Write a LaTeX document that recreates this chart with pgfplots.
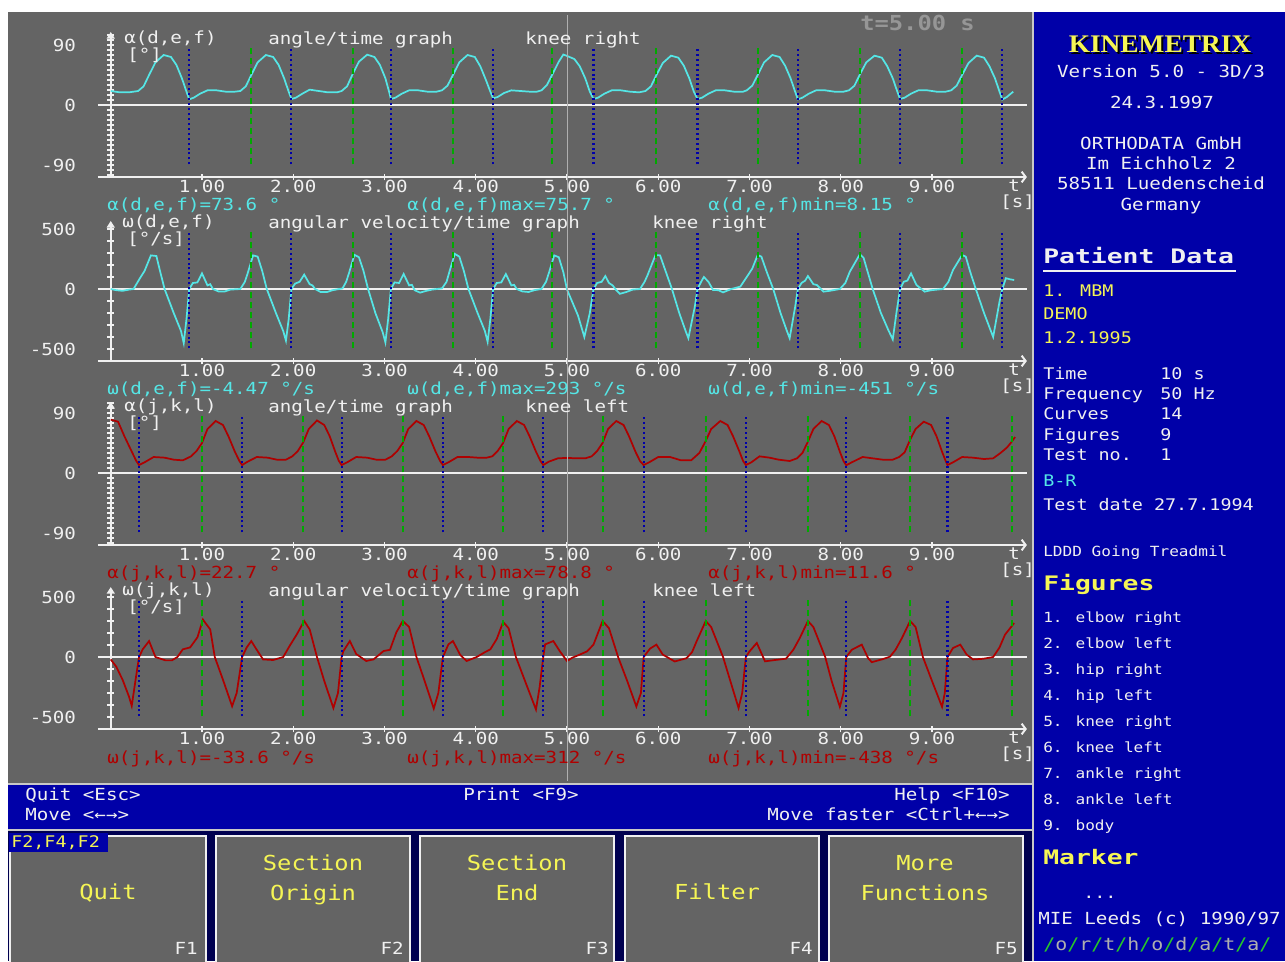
\documentclass[border=0pt]{standalone}
\usepackage{fontspec}
\usepackage{pgfplots}
\usepackage{pgfplotstable}
\pgfplotsset{compat=1.18}
\usetikzlibrary{arrows.meta}
\setmainfont{DejaVu Sans Mono}[FakeStretch=1.15]
\newfontfamily\wide{DejaVu Sans Mono}[FakeStretch=1.32]
\newfontfamily\logo{Liberation Serif}[FakeStretch=1.08]
\newcommand\fs[1]{\fontsize{#1}{#1}\selectfont}

\definecolor{bg}{RGB}{100,100,100}
\definecolor{vga}{RGB}{0,0,168}
\definecolor{navy}{RGB}{0,0,80}
\definecolor{cy}{RGB}{85,230,230}
\definecolor{dred}{RGB}{175,0,0}
\definecolor{mgreen}{RGB}{0,170,0}
\definecolor{mblue}{RGB}{0,0,170}
\definecolor{yel}{RGB}{245,245,85}
\definecolor{txt}{RGB}{240,240,240}
\definecolor{edge}{RGB}{200,200,200}
\definecolor{cursor}{RGB}{175,175,175}
\definecolor{tgray}{RGB}{150,150,150}
\definecolor{sgreen}{RGB}{40,200,40}
\definecolor{lgr}{RGB}{175,175,175}

% right knee angle [deg]
\pgfplotstableread{
t v
0.00 21
0.10 19
0.20 19
0.30 21
0.36 28
0.42 45
0.49 64
0.58 75
0.66 72
0.72 60
0.78 40
0.83 20
0.86 8.5
0.91 11
0.98 17
1.06 22
1.16 22
1.26 20
1.36 20
1.42 21
1.48 28
1.54 45
1.61 64
1.70 75
1.78 72
1.84 60
1.90 40
1.95 20
1.98 9
2.03 11
2.10 17
2.18 23
2.28 21
2.38 19
2.48 19
2.53 21
2.59 28
2.65 46
2.72 65
2.81 75.5
2.89 72
2.95 60
3.01 40
3.05 20
3.07 9
3.12 11
3.19 17
3.27 22
3.37 22
3.47 20
3.57 20
3.63 22
3.69 29
3.75 45
3.82 64
3.91 75
3.99 72
4.05 58
4.11 38
4.16 20
4.19 10
4.24 12
4.31 18
4.39 22
4.49 21
4.59 20
4.67 20
4.72 22
4.78 30
4.84 46
4.91 65
4.96 75.7
5.00 73.6
5.08 69
5.14 58
5.20 40
5.25 20
5.29 9
5.34 11
5.41 17
5.49 22
5.59 22
5.69 20
5.79 19
5.86 21
5.92 28
5.98 45
6.05 63
6.14 74
6.22 71
6.28 59
6.34 40
6.39 20
6.43 9
6.48 11
6.55 17
6.63 22
6.73 22
6.83 20
6.93 20
6.97 22
7.03 29
7.09 45
7.16 64
7.25 75
7.33 72
7.39 59
7.45 40
7.50 20
7.53 8.5
7.58 11
7.65 17
7.73 22
7.83 22
7.93 20
8.03 20
8.09 22
8.15 29
8.21 46
8.28 64
8.37 74
8.45 71
8.51 58
8.57 40
8.62 20
8.65 9
8.70 11
8.77 17
8.85 22
8.95 22
9.05 20
9.15 20
9.21 22
9.27 29
9.33 45
9.40 63
9.49 74
9.57 71
9.63 58
9.69 40
9.74 20
9.77 8.15
9.82 12
9.89 20
}\rka

% right knee angular velocity [deg/s]
\pgfplotstableread{
t v
0.00 0
0.06 -10
0.13 -15
0.20 -5
0.25 0
0.32 90
0.37 150
0.44 280
0.50 275
0.54 150
0.59 0
0.69 -200
0.77 -350
0.80 -451
0.83 -250
0.86 0
0.90 50
0.95 55
1.00 130
1.06 30
1.09 40
1.12 0
1.18 -20
1.25 -20
1.31 -5
1.42 0
1.47 60
1.50 130
1.56 280
1.61 270
1.66 150
1.71 0
1.81 -200
1.89 -350
1.92 -430
1.95 -250
1.98 0
2.02 45
2.07 60
2.12 120
2.18 40
2.21 30
2.24 0
2.30 -25
2.37 -25
2.43 -10
2.54 5
2.58 60
2.61 130
2.67 285
2.72 265
2.77 150
2.82 0
2.90 -200
2.98 -360
3.01 -445
3.04 -250
3.07 0
3.11 55
3.16 50
3.21 125
3.27 30
3.30 35
3.33 -10
3.39 -30
3.46 -15
3.52 -5
3.63 5
3.68 60
3.71 140
3.77 293
3.82 270
3.87 150
3.92 0
4.02 -200
4.10 -350
4.13 -440
4.16 -250
4.19 0
4.23 50
4.28 55
4.33 125
4.39 30
4.42 35
4.45 0
4.51 -20
4.58 -25
4.64 -10
4.72 0
4.77 60
4.80 130
4.86 280
4.91 265
4.96 140
5.00 -4.47
5.12 -220
5.19 -400
5.25 -200
5.29 0
5.33 50
5.38 60
5.42 108
5.46 50
5.50 30
5.54 -10
5.58 -40
5.65 -25
5.72 -5
5.80 0
5.85 60
5.88 110
5.97 283
6.02 280
6.08 150
6.15 0
6.23 -200
6.30 -350
6.33 -410
6.40 -150
6.43 0
6.47 60
6.50 100
6.55 60
6.60 -8
6.66 -10
6.71 -28
6.80 0
6.90 20
6.97 100
7.03 170
7.09 283
7.13 270
7.19 140
7.26 0
7.34 -200
7.41 -350
7.44 -410
7.50 -150
7.53 0
7.57 50
7.61 70
7.64 108
7.70 40
7.74 33
7.81 -22
7.88 -15
7.99 0
8.05 50
8.10 145
8.21 290
8.25 260
8.30 130
8.35 0
8.44 -200
8.52 -340
8.57 -420
8.61 -200
8.65 0
8.69 60
8.73 70
8.77 130
8.83 33
8.92 -22
8.99 -10
9.12 0
9.18 60
9.23 158
9.33 283
9.37 270
9.42 140
9.48 0
9.57 -200
9.64 -340
9.67 -400
9.74 -105
9.77 0
9.81 90
9.86 80
9.90 75
}\rkv

% left knee angle [deg]
\pgfplotstableread{
t v
0.00 80
0.08 77
0.15 55
0.22 35
0.28 18
0.31 12
0.37 16
0.47 24
0.59 23
0.69 20
0.79 19
0.88 25
0.94 33
1.00 45
1.06 66
1.15 78
1.23 72
1.29 55
1.36 32
1.41 18
1.44 12
1.50 17
1.60 24
1.72 23
1.82 20
1.92 20
1.99 25
2.05 33
2.11 46
2.17 66
2.26 78.8
2.34 72
2.40 55
2.46 32
2.50 18
2.53 12
2.59 16
2.69 24
2.81 23
2.91 20
3.01 20
3.08 25
3.14 33
3.20 45
3.26 66
3.35 78
3.43 72
3.49 55
3.56 32
3.61 18
3.64 12
3.70 16
3.80 24
3.92 24
4.02 23
4.12 23
4.18 25
4.24 33
4.30 45
4.36 66
4.45 78
4.53 72
4.59 55
4.66 32
4.71 18
4.74 12
4.80 17
4.90 22
5.00 22.7
5.10 22
5.20 22
5.27 25
5.33 33
5.39 45
5.45 66
5.54 78
5.62 72
5.68 55
5.75 32
5.80 18
5.84 12
5.90 16
6.00 24
6.13 24
6.25 19
6.36 19
6.45 30
6.52 48
6.58 66
6.68 78
6.76 72
6.82 55
6.89 32
6.93 18
6.96 12
7.02 16
7.11 25
7.22 23
7.32 20
7.44 18
7.52 22
7.58 30
7.64 47
7.70 66
7.79 78
7.87 72
7.93 55
7.99 32
8.03 18
8.06 11.6
8.12 16
8.24 24
8.35 22
8.46 20
8.57 20
8.64 24
8.70 31
8.76 50
8.82 66
8.91 77
8.99 72
9.05 55
9.11 32
9.15 18
9.17 12
9.23 16
9.33 24
9.45 23
9.57 21
9.67 22
9.75 30
9.82 38
9.88 48
9.91 54
}\lka

% left knee angular velocity [deg/s]
\pgfplotstableread{
t v
0.00 -20
0.06 -80
0.13 -190
0.20 -330
0.23 -407
0.27 -200
0.31 0
0.35 64
0.42 133
0.49 0
0.60 -28
0.67 -28
0.73 0
0.79 64
0.87 80
0.95 164
1.01 312
1.09 230
1.14 0
1.23 -190
1.33 -410
1.38 -300
1.44 0
1.49 80
1.54 133
1.60 60
1.67 -20
1.78 -25
1.89 0
1.96 92
2.04 190
2.12 300
2.18 230
2.26 0
2.34 -200
2.44 -425
2.49 -300
2.53 0
2.55 50
2.62 133
2.69 25
2.80 -33
2.88 -20
2.99 50
3.06 60
3.13 206
3.20 300
3.27 250
3.35 0
3.44 -200
3.54 -430
3.59 -300
3.64 0
3.70 105
3.75 133
3.83 17
3.90 -33
3.96 -15
4.01 0
4.10 40
4.16 64
4.23 150
4.30 292
4.36 240
4.44 0
4.54 -200
4.66 -438
4.70 -250
4.74 0
4.76 105
4.85 133
4.92 50
5.00 -33.6
5.06 -5
5.14 20
5.22 47
5.29 103
5.39 300
5.46 240
5.56 0
5.66 -200
5.76 -413
5.81 -300
5.84 0
5.91 70
5.98 103
6.05 20
6.18 -37
6.31 -10
6.37 40
6.42 130
6.52 300
6.58 250
6.71 0
6.79 -200
6.88 -425
6.92 -300
6.96 0
7.00 47
7.08 117
7.17 -36
7.28 -25
7.40 -14
7.48 60
7.55 157
7.64 300
7.70 250
7.83 0
7.90 -200
7.99 -415
8.03 -300
8.06 0
8.12 60
8.23 103
8.30 -10
8.34 -43
8.45 -20
8.54 3
8.60 60
8.67 157
8.76 300
8.82 250
8.90 0
9.00 -200
9.11 -415
9.14 -300
9.17 0
9.23 75
9.31 103
9.38 20
9.45 -20
9.56 -15
9.67 0
9.74 80
9.80 186
9.90 283
}\lkv

\pgfplotsset{
  kin/.style={
    anchor=origin, x=68.4375pt, xmin=-0.14, xmax=10.04,
    axis x line=bottom, axis y line=center,
    axis line style={txt, line width=1.5pt},
    x axis line style={-{Straight Barb[length=3pt,width=8pt]}},
    y axis line style={-{Triangle[length=5pt,width=6pt]}},
    xtick={1,...,9},
    xticklabels={1.00,2.00,3.00,4.00,5.00,6.00,7.00,8.00,9.00},
    tick align=center,
    major tick length=5pt, minor tick length=5pt,
    tick style={txt, line width=1pt},
    ticklabel style={font=\fs{12.5}, text=txt},
    xticklabel style={yshift=3.5pt},
    yticklabel style={xshift=-20pt},
    unbounded coords=jump,
  },
  ang/.style={y=0.5pt, ytick={-90,0,90}, yticklabels={-90,0,90},
    minor ytick={-105,-97.5,-82.5,-75,-67.5,-60,-52.5,-45,-37.5,-30,-22.5,-15,-7.5,
                 7.5,15,22.5,30,37.5,45,52.5,60,67.5,75,82.5,97.5,105}},
  vel/.style={y=0.09pt, ytick={-500,0,500}, yticklabels={-500,0,500},
    minor ytick={-400,-300,-200,-100,100,200,300,400}},
}

\tikzset{
  gdash/.style={mgreen, line width=1.5pt, dash pattern=on 4.5pt off 3pt},
  bdot/.style={mblue, line width=1.6pt, dash pattern=on 1.5pt off 2.2pt},
  zline/.style={txt, line width=1.5pt},
  lab/.style={anchor=west, inner sep=0pt, text=txt, font=\fs{12.5},
              text height=0.73em, text depth=0pt},
  rp/.style={anchor=west, inner sep=0pt, text=txt, font=\fs{12},
             text height=0.73em, text depth=0pt},
  rc/.style={inner sep=0pt, text=txt, font=\fs{12.5},
             text height=0.73em, text depth=0pt},
  btn/.style={inner sep=0pt, text=yel, font=\fs{15.5},
              text height=0.73em, text depth=0pt},
  fk/.style={anchor=east, inner sep=0pt, text=txt, font=\fs{12.5},
             text height=0.73em, text depth=0pt},
}

\newcommand\dslash{\textcolor{sgreen}{/}}
\newcommand\dl[1]{\textcolor{lgr}{#1}}

\begin{document}
\begin{tikzpicture}[x=0.75pt, y=-0.75pt]
\useasboundingbox (0,0) rectangle (1285,961);
\fill[white] (0,0) rectangle (1285,961);

% screen areas
\fill[bg] (8,12) rectangle (1032,783);
\fill[vga] (1034,12) rectangle (1285,961);
\draw[edge, line width=1.2pt] (1033,12) -- (1033,961);
\fill[vga] (8,785) rectangle (1032,829);
\draw[edge, line width=1.2pt] (8,784) -- (1032,784);
\draw[edge, line width=1.2pt] (8,830) -- (1032,830);
\fill[navy] (8,831) rectangle (1032,961);

% ---- panel 1: right knee angle (origin at 110.75px, 105px)
\begin{axis}[kin, ang, at={(83.0625pt,-78.75pt)}, ymin=-108, ymax=109.5]
\draw[zline] (axis cs:-0.14,0) -- (axis cs:10.04,0);
\addplot[cy, line width=1.3pt] table {\rka};
\addplot[gdash] coordinates {(1.54,-89)(1.54,86)(1.54,nan)(2.65,-89)(2.65,86)(2.65,nan)(3.75,-89)(3.75,86)(3.75,nan)(4.84,-89)(4.84,86)(4.84,nan)(5.98,-89)(5.98,86)(5.98,nan)(7.09,-89)(7.09,86)(7.09,nan)(8.21,-89)(8.21,86)(8.21,nan)(9.33,-89)(9.33,86)};
\addplot[bdot] coordinates {(0.86,-89)(0.86,86)(0.86,nan)(1.98,-89)(1.98,86)(1.98,nan)(3.07,-89)(3.07,86)(3.07,nan)(4.19,-89)(4.19,86)(4.19,nan)(5.29,-89)(5.29,86)(5.29,nan)(6.43,-89)(6.43,86)(6.43,nan)(7.53,-89)(7.53,86)(7.53,nan)(8.65,-89)(8.65,86)(8.65,nan)(9.77,-89)(9.77,86)};
\end{axis}

% ---- panel 2: right knee angular velocity (origin at 110.75px, 289px)
\begin{axis}[kin, vel, at={(83.0625pt,-216.75pt)}, ymin=-600, ymax=567]
\draw[zline] (axis cs:-0.14,0) -- (axis cs:10.04,0);
\addplot[cy, line width=1.3pt] table {\rkv};
\addplot[gdash] coordinates {(1.54,-495)(1.54,475)(1.54,nan)(2.65,-495)(2.65,475)(2.65,nan)(3.75,-495)(3.75,475)(3.75,nan)(4.84,-495)(4.84,475)(4.84,nan)(5.98,-495)(5.98,475)(5.98,nan)(7.09,-495)(7.09,475)(7.09,nan)(8.21,-495)(8.21,475)(8.21,nan)(9.33,-495)(9.33,475)};
\addplot[bdot] coordinates {(0.86,-495)(0.86,475)(0.86,nan)(1.98,-495)(1.98,475)(1.98,nan)(3.07,-495)(3.07,475)(3.07,nan)(4.19,-495)(4.19,475)(4.19,nan)(5.29,-495)(5.29,475)(5.29,nan)(6.43,-495)(6.43,475)(6.43,nan)(7.53,-495)(7.53,475)(7.53,nan)(8.65,-495)(8.65,475)(8.65,nan)(9.77,-495)(9.77,475)};
\end{axis}

% ---- panel 3: left knee angle (origin at 110.75px, 473px)
\begin{axis}[kin, ang, at={(83.0625pt,-354.75pt)}, ymin=-108, ymax=106.5]
\draw[zline] (axis cs:-0.14,0) -- (axis cs:10.04,0);
\addplot[dred, line width=1.3pt] table {\lka};
\addplot[gdash] coordinates {(1.00,-89)(1.00,86)(1.00,nan)(2.11,-89)(2.11,86)(2.11,nan)(3.20,-89)(3.20,86)(3.20,nan)(4.30,-89)(4.30,86)(4.30,nan)(5.39,-89)(5.39,86)(5.39,nan)(6.52,-89)(6.52,86)(6.52,nan)(7.64,-89)(7.64,86)(7.64,nan)(8.76,-89)(8.76,86)(8.76,nan)(9.88,-89)(9.88,86)};
\addplot[bdot] coordinates {(0.31,-89)(0.31,86)(0.31,nan)(1.44,-89)(1.44,86)(1.44,nan)(2.53,-89)(2.53,86)(2.53,nan)(3.64,-89)(3.64,86)(3.64,nan)(4.74,-89)(4.74,86)(4.74,nan)(5.84,-89)(5.84,86)(5.84,nan)(6.96,-89)(6.96,86)(6.96,nan)(8.06,-89)(8.06,86)(8.06,nan)(9.17,-89)(9.17,86)};
\end{axis}

% ---- panel 4: left knee angular velocity (origin at 110.75px, 657px)
\begin{axis}[kin, vel, at={(83.0625pt,-492.75pt)}, ymin=-600, ymax=583]
\draw[zline] (axis cs:-0.14,0) -- (axis cs:10.04,0);
\addplot[dred, line width=1.3pt] table {\lkv};
\addplot[gdash] coordinates {(1.00,-495)(1.00,475)(1.00,nan)(2.11,-495)(2.11,475)(2.11,nan)(3.20,-495)(3.20,475)(3.20,nan)(4.30,-495)(4.30,475)(4.30,nan)(5.39,-495)(5.39,475)(5.39,nan)(6.52,-495)(6.52,475)(6.52,nan)(7.64,-495)(7.64,475)(7.64,nan)(8.76,-495)(8.76,475)(8.76,nan)(9.88,-495)(9.88,475)};
\addplot[bdot] coordinates {(0.31,-495)(0.31,475)(0.31,nan)(1.44,-495)(1.44,475)(1.44,nan)(2.53,-495)(2.53,475)(2.53,nan)(3.64,-495)(3.64,475)(3.64,nan)(4.74,-495)(4.74,475)(4.74,nan)(5.84,-495)(5.84,475)(5.84,nan)(6.96,-495)(6.96,475)(6.96,nan)(8.06,-495)(8.06,475)(8.06,nan)(9.17,-495)(9.17,475)};
\end{axis}

% time cursor
\draw[cursor, line width=1pt] (567.5,15) -- (567.5,781);
\node[anchor=west, inner sep=0pt, text=tgray, font=\fs{15.5}\bfseries,
      text height=0.73em, text depth=0pt] at (860,26) {t=5.00 s};

% panel texts
\node[lab] at (124,39) {α(d,e,f)};
\node[lab] at (127,56) {[°]};
\node[lab] at (268,40) {angle/time graph};
\node[lab] at (525,40) {knee right};
\node[lab,text=cy] at (107,206) {α(d,e,f)=73.6 °};
\node[lab,text=cy] at (407,206) {α(d,e,f)max=75.7 °};
\node[lab,text=cy] at (708,206) {α(d,e,f)min=8.15 °};
\node[lab] at (1008,187) {t};
\node[lab] at (1000,203) {[s]};

\node[lab] at (122,223) {ω(d,e,f)};
\node[lab] at (127,240) {[°/s]};
\node[lab] at (268,224) {angular velocity/time graph};
\node[lab] at (652,224) {knee right};
\node[lab,text=cy] at (107,390) {ω(d,e,f)=-4.47 °/s};
\node[lab,text=cy] at (407,390) {ω(d,e,f)max=293 °/s};
\node[lab,text=cy] at (708,390) {ω(d,e,f)min=-451 °/s};
\node[lab] at (1008,371) {t};
\node[lab] at (1000,387) {[s]};

\node[lab] at (124,407) {α(j,k,l)};
\node[lab] at (127,424) {[°]};
\node[lab] at (268,408) {angle/time graph};
\node[lab] at (525,408) {knee left};
\node[lab,text=dred] at (107,574) {α(j,k,l)=22.7 °};
\node[lab,text=dred] at (407,574) {α(j,k,l)max=78.8 °};
\node[lab,text=dred] at (708,574) {α(j,k,l)min=11.6 °};
\node[lab] at (1008,555) {t};
\node[lab] at (1000,571) {[s]};

\node[lab] at (122,591) {ω(j,k,l)};
\node[lab] at (127,608) {[°/s]};
\node[lab] at (268,592) {angular velocity/time graph};
\node[lab] at (652,592) {knee left};
\node[lab,text=dred] at (107,759) {ω(j,k,l)=-33.6 °/s};
\node[lab,text=dred] at (407,759) {ω(j,k,l)max=312 °/s};
\node[lab,text=dred] at (708,759) {ω(j,k,l)min=-438 °/s};
\node[lab] at (1008,739) {t};
\node[lab] at (1000,755) {[s]};

% status bar
\node[lab] at (25,796) {Quit <Esc>};
\node[lab] at (25,816) {Move <←→>};
\node[lab] at (463,796) {Print <F9>};
\node[lab,anchor=east] at (1010,796) {Help <F10>};
\node[lab,anchor=east] at (1010,816) {Move faster <Ctrl+←→>};

% function key buttons
\foreach \a/\b in {10/206,216/410,420/614,625/819,829/1023}
  \filldraw[fill=bg, draw=txt, line width=1.5pt] (\a,836) rectangle (\b,975);
\fill[vga] (9,833) rectangle (108,852);
\node[lab,text=yel,font=\fs{12}] at (11,843) {F2,F4,F2};
\node[btn] at (108,895) {Quit};
\node[btn] at (313,866) {Section};
\node[btn] at (313,896) {Origin};
\node[btn] at (517,866) {Section};
\node[btn] at (517,896) {End};
\node[btn] at (717,895) {Filter};
\node[btn] at (925,866) {More};
\node[btn] at (925,896) {Functions};
\node[fk] at (198,950) {F1};
\node[fk] at (404,950) {F2};
\node[fk] at (609,950) {F3};
\node[fk] at (813,950) {F4};
\node[fk] at (1018,950) {F5};

% information panel
\node[inner sep=0pt, text=black, font=\logo\bfseries\fs{19}] at (1162,46) {KINEMETRIX};
\node[inner sep=0pt, text=yel, font=\logo\bfseries\fs{19}] at (1160,44) {KINEMETRIX};
\node[rc] at (1161,73) {Version 5.0 - 3D/3};
\node[rc] at (1162,104) {24.3.1997};
\node[rc] at (1161,145) {ORTHODATA GmbH};
\node[rc] at (1161,165) {Im Eichholz 2};
\node[rc] at (1161,185) {58511 Luedenscheid};
\node[rc] at (1161,206) {Germany};

\node[rp,font=\wide\bfseries\fs{15}] at (1043,259) {Patient Data};
\draw[txt, line width=1.5pt] (1043,271) -- (1236,271);
\node[rp,text=yel] at (1043,292) {1. MBM};
\node[rp,text=yel] at (1043,315) {DEMO};
\node[rp,text=yel] at (1043,339) {1.2.1995};
\node[rp] at (1043,375) {Time};       \node[rp] at (1160,375) {10 s};
\node[rp] at (1043,395) {Frequency};  \node[rp] at (1160,395) {50 Hz};
\node[rp] at (1043,415) {Curves};     \node[rp] at (1160,415) {14};
\node[rp] at (1043,436) {Figures};    \node[rp] at (1160,436) {9};
\node[rp] at (1043,456) {Test no.};   \node[rp] at (1160,456) {1};
\node[rp,text=cy] at (1043,482) {B-R};
\node[rp] at (1043,506) {Test date 27.7.1994};
\node[rp,font=\fs{10.5}] at (1043,552) {LDDD Going Treadmil};
\node[rp,text=yel,font=\wide\bfseries\fs{15}] at (1043,586) {Figures};
\foreach \k/\s in {0/1. elbow right,1/2. elbow left,2/3. hip right,3/4. hip left,
                   4/5. knee right,5/6. knee left,6/7. ankle right,7/8. ankle left,8/9. body}
  \node[rp,font=\fs{10.5}] at (1043,618+26*\k) {\s};
\node[rp,text=yel,font=\wide\bfseries\fs{15}] at (1043,860) {Marker};
\node[rp] at (1083,894) {...};
\node[rp,font=\fs{12.5}] at (1038,920) {MIE Leeds (c) 1990/97};
\node[rp,font=\fs{13}] at (1043,946) {\dslash\dl{o}\dslash\dl{r}\dslash\dl{t}\dslash\dl{h}\dslash\dl{o}\dslash\dl{d}\dslash\dl{a}\dslash\dl{t}\dslash\dl{a}\dslash};
\end{tikzpicture}
\end{document}
